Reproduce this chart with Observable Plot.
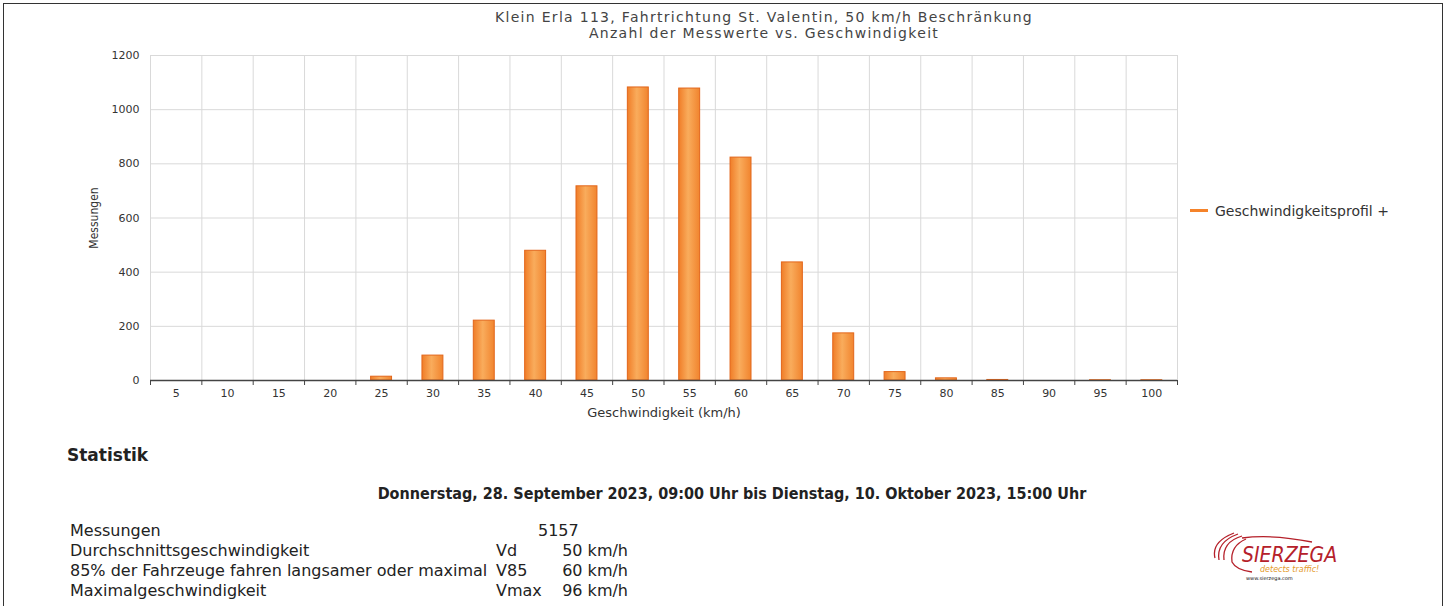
<!DOCTYPE html>
<html>
<head>
<meta charset="utf-8">
<script src="https://cdn.jsdelivr.net/npm/d3@7"></script>
<script src="https://cdn.jsdelivr.net/npm/@observablehq/plot@0.6"></script>
<style>
  html, body { margin: 0; padding: 0; background: #fff; }
  body { width: 1453px; height: 606px; position: relative; overflow: hidden; font-family: "DejaVu Sans", sans-serif; color: #222; }
  .abs { position: absolute; white-space: nowrap; }
  #frame { position: absolute; left: 3px; top: 3px; width: 1440px; height: 640px; border: 1.5px solid #333; box-sizing: border-box; }
  #chart { position: absolute; left: 0; top: 0; }
  .title { font-size: 14px; letter-spacing: 1.3px; color: #444; text-align: center; width: 800px; left: 364px; line-height: 16px; }
  .stat { font-size: 16px; line-height: 18px; color: #222; }
</style>
</head>
<body>
<div id="frame"></div>
<div id="chart"></div>
<div class="abs title" style="top:9px">Klein Erla 113, Fahrtrichtung St. Valentin, 50 km/h Beschränkung</div>
<div class="abs title" style="top:25px">Anzahl der Messwerte vs. Geschwindigkeit</div>

<div class="abs" style="left:1190px; top:209px; width:18px; height:3px; background:#f5832a;"></div>
<div class="abs" style="left:1215px; top:202px; font-size:14px; line-height:18px; color:#333;">Geschwindigkeitsprofil +</div>

<div class="abs" style="left:67px; top:445px; font-size:17px; font-weight:bold; line-height:20px;">Statistik</div>
<div class="abs" id="period" style="left:0; width:1464px; text-align:center; top:485px; font-size:16px; font-weight:bold; font-family:'DejaVu Sans Condensed','DejaVu Sans',sans-serif; line-height:18px;"></div>
<div id="stats"></div>

<div class="abs" style="left:1212px; top:528px; width:140px; height:60px;">
  <svg width="140" height="60" viewBox="0 0 140 60">
    <g fill="none" stroke="#b5202a" stroke-width="1.3">
      <path d="M30 8 Q10 14 12 32"/>
      <path d="M26 6 Q4 14 7 32"/>
      <path d="M22 5 Q-1 14 3 30"/>
      <path d="M34 11 Q18 18 20 34 Q24 42 40 44"/>
      <path d="M30 10 Q60 6 100 14"/>
    </g>
    <text x="30" y="34" font-family="DejaVu Sans Condensed, DejaVu Sans" font-style="italic" font-size="21" fill="#b5202a">SIERZEGA</text>
    <text x="48" y="44" font-family="DejaVu Sans" font-style="italic" font-size="8" fill="#e49a2a">detects traffic!</text>
    <text x="34" y="52" font-family="DejaVu Sans" font-size="5" fill="#111">www.sierzega.com</text>
  </svg>
</div>

<script>
// ---- data ----
const speeds = [5, 10, 15, 20, 25, 30, 35, 40, 45, 50, 55, 60, 65, 70, 75, 80, 85, 90, 95, 100];
const counts = [0, 0, 0, 0, 14, 92, 221, 479, 717, 1082, 1078, 823, 436, 174, 31, 8, 2, 0, 1, 1];
const yTicks = [0, 200, 400, 600, 800, 1000, 1200];
const seriesName = "Geschwindigkeitsprofil +";

const periodText = "Donnerstag, 28. September 2023, 09:00 Uhr bis Dienstag, 10. Oktober 2023, 15:00 Uhr";
const statLabels = ["Messungen", "Durchschnittsgeschwindigkeit", "85% der Fahrzeuge fahren langsamer oder maximal", "Maximalgeschwindigkeit"];
const statSymbols = ["", "Vd", "V85", "Vmax"];
const statValues = ["5157", "50 km/h", "60 km/h", "96 km/h"];

// ---- chart ----
const data = speeds.map((s, i) => ({speed: s, count: counts[i]}));
const step = speeds[1] - speeds[0];
const boundaries = [...speeds.map(s => s - step / 2), speeds[speeds.length - 1] + step / 2];

const W = 1453, H = 430;
const chart = Plot.plot({
  width: W,
  height: H,
  marginLeft: 150,
  marginRight: 276,
  marginTop: 55,
  marginBottom: 50,
  style: {fontFamily: "DejaVu Sans, sans-serif", fontSize: "11px", color: "#333", background: "transparent"},
  x: {domain: [boundaries[0], boundaries[boundaries.length - 1]]},
  y: {domain: [0, 1200]},
  marks: [
    Plot.gridY(yTicks, {stroke: "#d9d9d9", strokeOpacity: 1, strokeWidth: 1}),
    Plot.gridX(boundaries, {stroke: "#d9d9d9", strokeOpacity: 1, strokeWidth: 1}),
    Plot.rectY(data, {
      x1: d => d.speed - step / 2,
      x2: d => d.speed + step / 2,
      y: "count",
      insetLeft: 15.2,
      insetRight: 15.2,
      fill: "url(#barGrad)",
      stroke: "#e2661b",
      strokeWidth: 1
    }),
    Plot.ruleY([0], {stroke: "#444", strokeWidth: 1.5}),
    Plot.axisX(boundaries, {tickFormat: () => "", tickSize: 5, stroke: "#444", label: null}),
    Plot.axisX(speeds, {tickSize: 0, tickPadding: 9, fontSize: 11, fill: "#333", label: null}),
    Plot.axisX({ticks: [], label: "Geschwindigkeit (km/h)", labelAnchor: "center", labelArrow: "none",
      labelOffset: 36, fontSize: 13, fill: "#333", style: "letter-spacing:0.6px"}),
    Plot.axisY(yTicks, {tickSize: 0, tickPadding: 11, fontSize: 11, fill: "#333", tickFormat: d => String(d), label: null}),
    Plot.axisY({ticks: [], label: "Messungen", labelAnchor: "center", labelArrow: "none", labelOffset: 61,
      fontSize: 12, fill: "#333", fontFamily: "DejaVu Sans Condensed, DejaVu Sans"})
  ]
});

// gradient definition for bars
const ns = "http://www.w3.org/2000/svg";
const defs = document.createElementNS(ns, "defs");
const grad = document.createElementNS(ns, "linearGradient");
grad.setAttribute("id", "barGrad");
grad.setAttribute("x1", "0"); grad.setAttribute("x2", "1");
grad.setAttribute("y1", "0"); grad.setAttribute("y2", "0");
[["0%", "#f07d28"], ["45%", "#f9ac5c"], ["100%", "#f1842e"]].forEach(([o, c]) => {
  const st = document.createElementNS(ns, "stop");
  st.setAttribute("offset", o); st.setAttribute("stop-color", c);
  grad.appendChild(st);
});
defs.appendChild(grad);
chart.insertBefore(defs, chart.firstChild);
document.getElementById("chart").appendChild(chart);

// ---- statistics ----
document.getElementById("period").textContent = periodText;
const statsEl = document.getElementById("stats");
const rowTops = [522, 542, 562, 582];
statLabels.forEach((lab, i) => {
  const a = document.createElement("div");
  a.className = "abs stat"; a.style.left = "70px"; a.style.top = rowTops[i] + "px"; a.textContent = lab;
  statsEl.appendChild(a);
  const b = document.createElement("div");
  b.className = "abs stat"; b.style.left = "496px"; b.style.top = rowTops[i] + "px"; b.textContent = statSymbols[i];
  statsEl.appendChild(b);
  const c = document.createElement("div");
  c.className = "abs stat";
  if (i === 0) { c.style.left = "538px"; }
  else { c.style.left = "480px"; c.style.width = "148px"; c.style.textAlign = "right"; }
  c.style.top = rowTops[i] + "px"; c.textContent = statValues[i];
  statsEl.appendChild(c);
});
</script>
</body>
</html>
